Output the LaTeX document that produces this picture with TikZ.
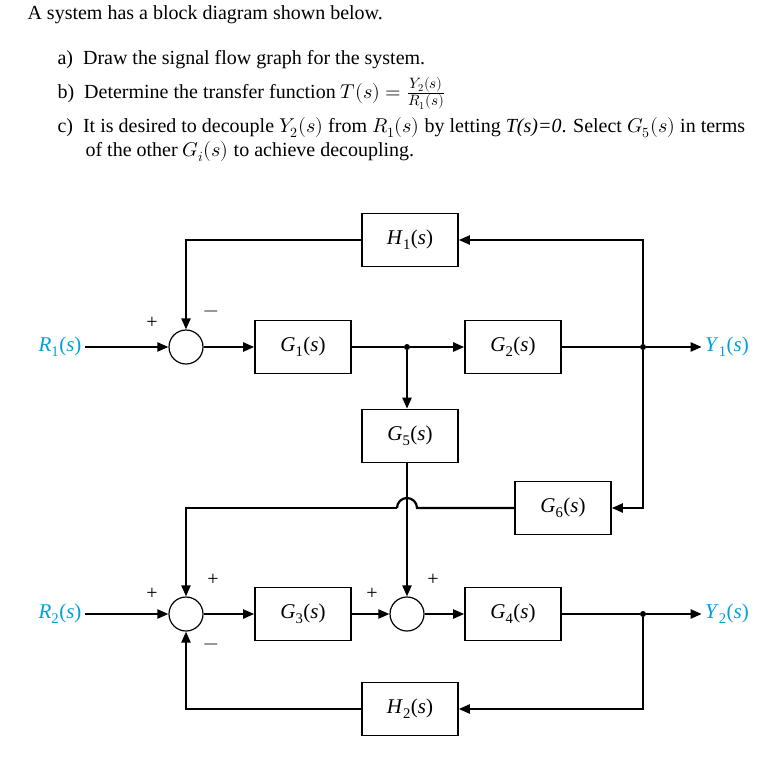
\documentclass[tikz,border=0pt]{standalone}
\usepackage{fontspec}
\setmainfont{Liberation Serif}
\usepackage{unicode-math}
\setmathfont{Latin Modern Math}
\usetikzlibrary{arrows.meta}
\definecolor{lab}{RGB}{0,160,220}
\newcommand{\tfn}[2]{\textit{#1}\textsubscript{#2}(\textit{s})}
\begin{document}
\begin{tikzpicture}[x=1pt,y=-1pt,
  blk/.style={draw,line width=1.6pt,minimum width=96pt,minimum height=53pt,font=\fontsize{21}{21}\selectfont},
  sj/.style={draw,line width=1.2pt,circle,minimum size=34pt,inner sep=0pt},
  ln/.style={line width=2.2pt},
  ar/.style={ln,-{Triangle[length=11pt,width=9pt]}},
  dot/.style={circle,fill,inner sep=0pt,minimum size=6pt},
  sg/.style={font=\fontsize{20}{20}\selectfont},
  lb/.style={text=lab,font=\fontsize{21}{21}\selectfont},
  tx/.style={anchor=west,font=\fontsize{20}{23}\selectfont}]
\useasboundingbox (0,0) rectangle (783,776);
\node[tx] (t0) at (24,15) {A system has a block diagram shown below.};
\node[tx] (ta) at (54,60) {a)\ \ Draw the signal flow graph for the system.};
\node[tx] (tb) at (54,93) {b)\ \ Determine the transfer function $T(s)=\genfrac{}{}{}{}{\text{\fontsize{15}{15}\selectfont$Y_2(s)$}}{\text{\fontsize{15}{15}\selectfont$R_1(s)$}}$};
\node[tx] (tc) at (54,128) {c)\ \ It is desired to decouple $Y_2(s)$ from $R_1(s)$ by letting \textit{T(s)=0}. Select $G_5(s)$ in terms};
\node[tx] (tc2) at (82,152) {of the other $G_i(s)$ to achieve decoupling.};

\node[blk] (H1) at (410,240) {\tfn{H}{1}};
\node[blk] (G1) at (303,347) {\tfn{G}{1}};
\node[blk] (G2) at (513,347) {\tfn{G}{2}};
\node[blk] (G5) at (410,436) {\tfn{G}{5}};
\node[blk] (G6) at (563,508) {\tfn{G}{6}};
\node[blk] (G3) at (303,614) {\tfn{G}{3}};
\node[blk] (G4) at (513,614) {\tfn{G}{4}};
\node[blk] (H2) at (410,709) {\tfn{H}{2}};
\node[sj] (S1) at (186,347) {};
\node[sj] (S2) at (186,614) {};
\node[sj] (S3) at (407,614) {};
\node[lb] (R1) at (60,347) {\tfn{R}{1}};
\node[lb] (R2) at (60,614) {\tfn{R}{2}};
\node[lb] (Y1) at (727,347) {\tfn{Y}{1}};
\node[lb] (Y2) at (727,614) {\tfn{Y}{2}};
\node[dot] (b1) at (407,347) {};
\node[dot] (b2) at (643,347) {};
\node[dot] (b3) at (643,614) {};
\coordinate (c1) at (643,240);
\coordinate (c2) at (186,240);
\coordinate (c3) at (643,508);
\coordinate (c4) at (186,508);
\coordinate (c5) at (643,709);
\coordinate (c6) at (186,709);
\coordinate (h1) at (417,508);
\coordinate (h2) at (397,508);

\draw[ar] (R1) -- (S1);
\draw[ar] (S1) -- (G1);
\draw[ln] (G1) -- (b1);
\draw[ar] (b1) -- (G2);
\draw[ln] (G2) -- (b2);
\draw[ar] (b2) -- (Y1);
\draw[ar] (b1) -- (b1 |- G5.north);
\draw[ar] (G5.south -| S3) -- (S3);
\draw[ar] (b2) -- (c1) -- (H1);
\draw[ar] (H1) -- (c2) -- (S1);
\draw[ar] (b2) -- (c3) -- (G6);
\draw[ln] (G6) -- (h1) arc[start angle=0,end angle=180,radius=10pt] -- (h2);
\draw[ar] (h2) -- (c4) -- (S2);
\draw[ar] (R2) -- (S2);
\draw[ar] (S2) -- (G3);
\draw[ar] (G3) -- (S3);
\draw[ar] (S3) -- (G4);
\draw[ln] (G4) -- (b3);
\draw[ar] (b3) -- (Y2);
\draw[ar] (b3) -- (c5) -- (H2);
\draw[ar] (H2) -- (c6) -- (S2);

\node[sg] (p1) at (152,323) {+};
\node[sg] (m1) at (211,314) {$-$};
\node[sg] (p2) at (152,594) {+};
\node[sg] (p3) at (213,580) {+};
\node[sg] (m2) at (211,647) {$-$};
\node[sg] (p4) at (372,594) {+};
\node[sg] (p5) at (433,580) {+};
\end{tikzpicture}
\end{document}
